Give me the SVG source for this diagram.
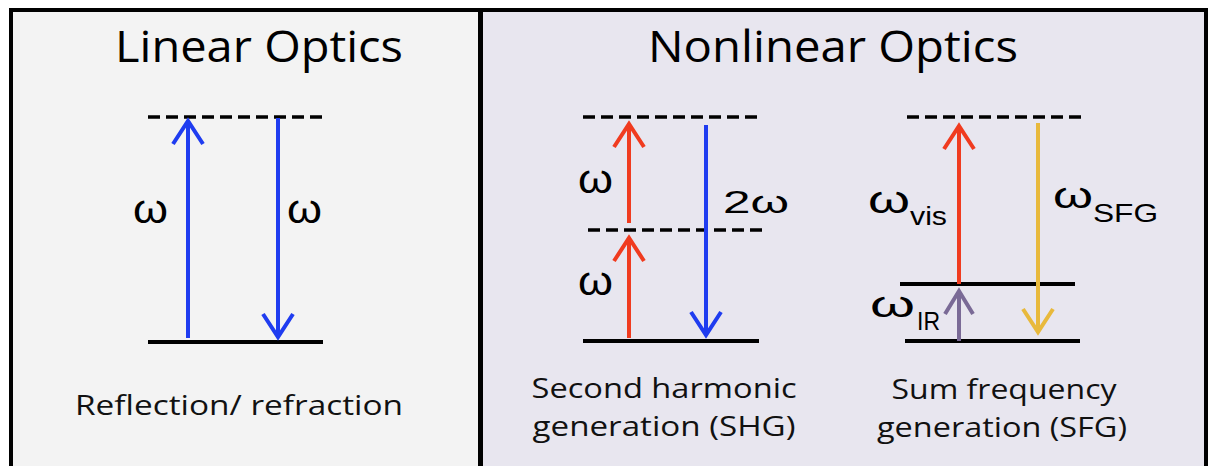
<svg xmlns="http://www.w3.org/2000/svg" width="1211" height="466" viewBox="0 0 1211 466">
<style>
.title{font-family:"Open Sans","Liberation Sans",sans-serif;font-size:43px;fill:#000;text-anchor:middle}
.cap{font-family:"Open Sans","Liberation Sans",sans-serif;font-size:27px;fill:#111;text-anchor:middle}
.sym{font-family:"Liberation Sans",Arial,sans-serif;fill:#000}
.dash{stroke:#000;stroke-width:3.5;stroke-dasharray:12 6;fill:none}
.level{stroke:#000;stroke-width:4;fill:none}
.arr{stroke-width:4;fill:none}
</style>
<defs>
<marker id="ah-blue" markerUnits="userSpaceOnUse" orient="auto" refX="0" refY="0" markerWidth="40" markerHeight="40" viewBox="-30 -20 40 40" overflow="visible"><path d="M-23,-15 L0,0 L-23,15" fill="none" stroke="#1f3cf0" stroke-width="4"/></marker>
<marker id="ah-red" markerUnits="userSpaceOnUse" orient="auto" refX="0" refY="0" markerWidth="40" markerHeight="40" viewBox="-30 -20 40 40" overflow="visible"><path d="M-23,-15 L0,0 L-23,15" fill="none" stroke="#f03b1f" stroke-width="4"/></marker>
<marker id="ah-purple" markerUnits="userSpaceOnUse" orient="auto" refX="0" refY="0" markerWidth="40" markerHeight="40" viewBox="-30 -20 40 40" overflow="visible"><path d="M-23,-14 L0,0 L-23,14" fill="none" stroke="#7a6a96" stroke-width="4"/></marker>
<marker id="ah-yellow" markerUnits="userSpaceOnUse" orient="auto" refX="0" refY="0" markerWidth="40" markerHeight="40" viewBox="-30 -20 40 40" overflow="visible"><path d="M-23,-15 L0,0 L-23,15" fill="none" stroke="#e8b93c" stroke-width="4"/></marker>
</defs>
<rect width="1211" height="466" fill="#ffffff"/>
<g id="panel-linear">
<rect x="11" y="10" width="469.5" height="470" fill="#f3f3f3" stroke="#000" stroke-width="4"/>
<text class="title" x="259" y="62" textLength="288" lengthAdjust="spacingAndGlyphs">Linear Optics</text>
<text class="cap" x="239" y="415" textLength="328" lengthAdjust="spacingAndGlyphs" style="font-size:28px">Reflection/ refraction</text>
</g>
<g id="panel-nonlinear">
<rect x="480.5" y="10" width="725.5" height="470" fill="#e8e6ef" stroke="#000" stroke-width="4"/>
<line x1="480.5" y1="8" x2="480.5" y2="466" stroke="#000" stroke-width="5"/>
<text class="title" x="833" y="62" textLength="370" lengthAdjust="spacingAndGlyphs">Nonlinear Optics</text>
<text class="cap" x="664" y="398" textLength="265" lengthAdjust="spacingAndGlyphs">Second harmonic</text>
<text class="cap" x="664" y="436" textLength="263" lengthAdjust="spacingAndGlyphs">generation (SHG)</text>
<text class="cap" x="1004" y="399" textLength="225" lengthAdjust="spacingAndGlyphs">Sum frequency</text>
<text class="cap" x="1002" y="437" textLength="250" lengthAdjust="spacingAndGlyphs">generation (SFG)</text>
</g>
<g id="levels">
<line class="dash" x1="148" y1="117" x2="323" y2="117"/>
<line class="level" x1="148" y1="342" x2="323" y2="342"/>
<line class="dash" x1="583" y1="117" x2="760" y2="117"/>
<line class="dash" x1="588" y1="230" x2="763" y2="230"/>
<line class="level" x1="583" y1="341" x2="759" y2="341"/>
<line class="dash" x1="907" y1="117" x2="1083" y2="117"/>
<line class="level" x1="900" y1="284" x2="1075" y2="284"/>
<line class="level" x1="905" y1="341" x2="1080" y2="341"/>
</g>
<g id="connectors">
<line class="arr" stroke="#1f3cf0" x1="188" y1="338" x2="188" y2="121" marker-end="url(#ah-blue)"/>
<line class="arr" stroke="#1f3cf0" x1="278" y1="118" x2="278" y2="337" marker-end="url(#ah-blue)"/>
<line class="arr" stroke="#f03b1f" x1="629" y1="338" x2="629" y2="238" marker-end="url(#ah-red)"/>
<line class="arr" stroke="#f03b1f" x1="629" y1="223" x2="629" y2="124" marker-end="url(#ah-red)"/>
<line class="arr" stroke="#1f3cf0" x1="706" y1="125" x2="706" y2="335" marker-end="url(#ah-blue)"/>
<line class="arr" stroke="#f03b1f" x1="959" y1="284" x2="959" y2="126" marker-end="url(#ah-red)"/>
<line class="arr" stroke="#7a6a96" x1="959" y1="341" x2="959" y2="291" marker-end="url(#ah-purple)"/>
<line class="arr" stroke="#e8b93c" x1="1038" y1="123" x2="1038" y2="332" marker-end="url(#ah-yellow)"/>
</g>
<g id="labels">
<text class="sym" x="133" y="223" font-size="40" textLength="35" lengthAdjust="spacingAndGlyphs">ω</text>
<text class="sym" x="287" y="223" font-size="40" textLength="35" lengthAdjust="spacingAndGlyphs">ω</text>
<text class="sym" x="578" y="193" font-size="40" textLength="35" lengthAdjust="spacingAndGlyphs">ω</text>
<text class="sym" x="578" y="295" font-size="40" textLength="35" lengthAdjust="spacingAndGlyphs">ω</text>
<text class="sym" x="723" y="213" font-size="32" textLength="66" lengthAdjust="spacingAndGlyphs">2ω</text>
<text class="sym" x="868" y="213" font-size="38" textLength="42" lengthAdjust="spacingAndGlyphs">ω</text>
<text class="sym" x="910" y="225" font-size="25" textLength="37" lengthAdjust="spacingAndGlyphs">vis</text>
<text class="sym" x="1053" y="208" font-size="37" textLength="40" lengthAdjust="spacingAndGlyphs">ω</text>
<text class="sym" x="1093" y="222" font-size="26" textLength="65" lengthAdjust="spacingAndGlyphs">SFG</text>
<text class="sym" x="870" y="317" font-size="36" textLength="45" lengthAdjust="spacingAndGlyphs">ω</text>
<text class="sym" x="917" y="330" font-size="25" textLength="23" lengthAdjust="spacingAndGlyphs">IR</text>
</g>
</svg>
